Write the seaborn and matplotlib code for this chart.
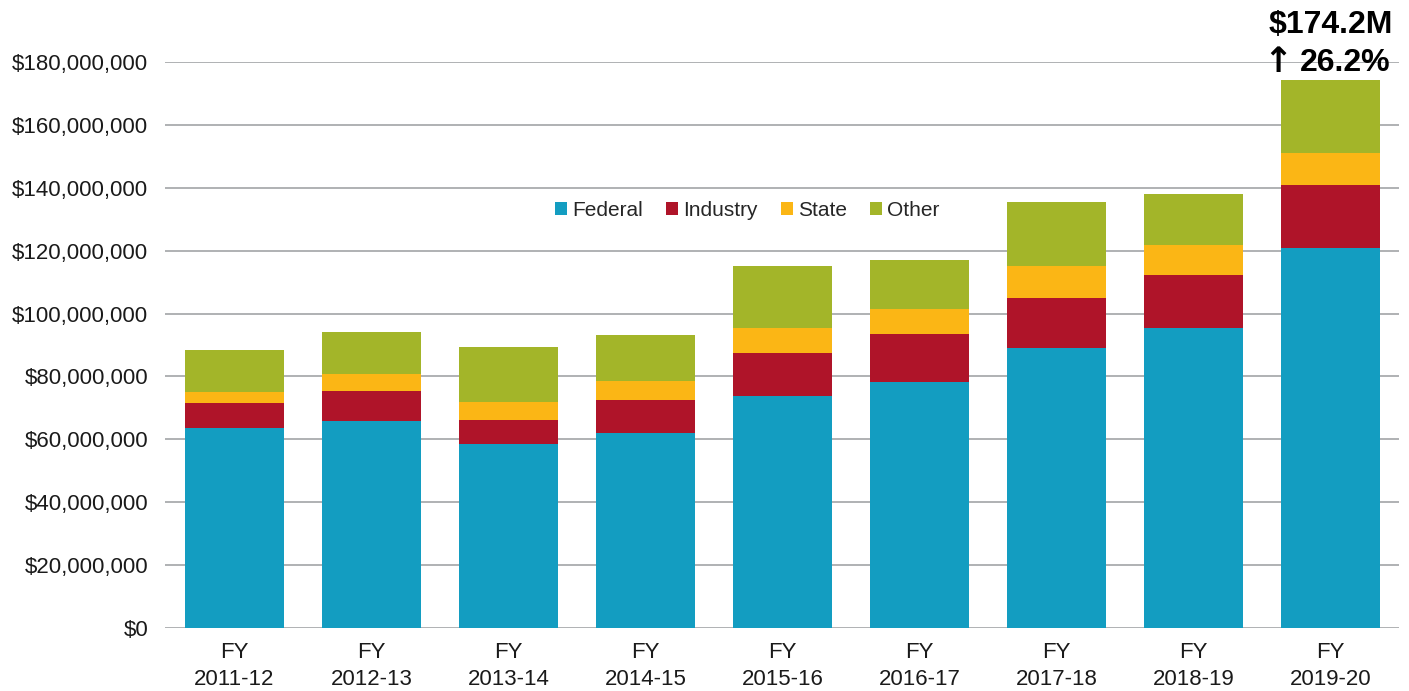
import matplotlib
matplotlib.use("Agg")
import matplotlib.pyplot as plt
from matplotlib.ticker import FuncFormatter
from matplotlib.patches import Patch
import seaborn as sns
import pandas as pd
import numpy as np

years = ["2011-12", "2012-13", "2013-14", "2014-15", "2015-16",
         "2016-17", "2017-18", "2018-19", "2019-20"]
federal = [63.6, 65.8, 58.5, 62.0, 73.8, 78.2, 89.0, 95.4, 120.8]
industry = [8.0, 9.6, 7.6, 10.5, 13.7, 15.3, 15.9, 16.9, 20.1]
state = [3.4, 5.4, 5.8, 6.0, 7.9, 7.9, 10.2, 9.5, 10.2]
other = [13.4, 13.3, 17.5, 14.7, 19.7, 15.6, 20.4, 16.2, 23.2]
series_names = ["Federal", "Industry", "State", "Other"]
colors = ["#139DC1", "#AF1429", "#FBB615", "#A3B529"]
yticks = [0, 20, 40, 60, 80, 100, 120, 140, 160, 180]
total_label = "$174.2M"
growth_label = "26.2%"

sns.set_theme(style="white")
plt.rcParams["font.family"] = ["Liberation Sans", "DejaVu Sans"]

labels = ["FY\n" + y for y in years]
df = pd.DataFrame({"year": labels})
vals = [federal, industry, state, other]
cum = np.cumsum(np.array(vals) * 1e6, axis=0)

fig = plt.figure(figsize=(14.09, 6.91), dpi=100)
ax = fig.add_axes([0.117, 0.0912, 0.876, 0.819])

for i in range(3, -1, -1):
    d = df.copy()
    d["value"] = cum[i]
    sns.barplot(data=d, x="year", y="value", color=colors[i], ax=ax,
                width=0.72, saturation=1, zorder=3, errorbar=None,
                linewidth=0, edgecolor="none")

ax.set_ylim(0, 180e6)
ax.set_xlim(-0.507, 8.5)
ax.set_yticks([v * 1e6 for v in yticks])
ax.yaxis.set_major_formatter(FuncFormatter(lambda v, p: "${:,.0f}".format(v)))
ax.grid(axis="y", color="#A9ABAE", linewidth=1.3, zorder=0)
ax.set_axisbelow(True)
for s in ax.spines.values():
    s.set_visible(False)
ax.set_xlabel("")
ax.set_ylabel("")
ax.tick_params(axis="both", length=0, labelsize=16, colors="#1a1a1a")
ax.tick_params(axis="y", pad=12)
ax.tick_params(axis="x", pad=10)
for t in ax.get_xticklabels():
    t.set_linespacing(1.38)

handles = [Patch(facecolor=c, edgecolor="none") for c in colors]
ax.legend(handles, series_names, ncol=4, loc="center",
          bbox_to_anchor=(0.472, 0.738), frameon=False, fontsize=15,
          handlelength=0.58, handleheight=0.58, handletextpad=0.25,
          columnspacing=1.1)

ax.text(8, 191.7e6, total_label, ha="center", va="center", fontsize=23,
        fontweight="bold", clip_on=False, color="#000000")
ax.text(7.775, 179.7e6, growth_label, ha="left", va="center",
        fontsize=23, fontweight="bold", clip_on=False, color="#000000")
ax.text(7.615, 179.9e6, "\u2191", ha="center", va="center",
        fontsize=25, fontweight="bold", family="DejaVu Sans",
        clip_on=False, color="#000000")

fig.savefig("out.png", dpi=100)
